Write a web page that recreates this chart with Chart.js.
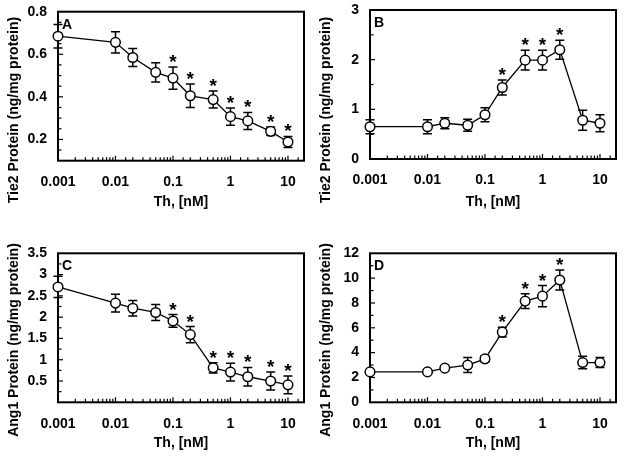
<!DOCTYPE html>
<html><head><meta charset="utf-8">
<script src="https://cdn.jsdelivr.net/npm/chart.js@4.4.0/dist/chart.umd.min.js"></script>
<style>
html,body{margin:0;padding:0;background:#fff;}
#wrap{position:relative;width:624px;height:459px;overflow:hidden;background:#fff;}
canvas{position:absolute;}
</style></head><body>
<div id="wrap">
<canvas id="cA" width="312" height="230" style="left:0;top:0"></canvas>
<canvas id="cB" width="312" height="230" style="left:312px;top:0"></canvas>
<canvas id="cC" width="312" height="229" style="left:0;top:230px"></canvas>
<canvas id="cD" width="312" height="229" style="left:312px;top:230px"></canvas>
</div>
<script>
// ---- data ----
const concentrations = [0.001, 0.01, 0.02, 0.05, 0.1, 0.2, 0.5, 1, 2, 5, 10];
const xTickLabels = ['0.001', '0.01', '0.1', '1', '10'];

const tie2A = [0.685, 0.656, 0.585, 0.515, 0.488, 0.405, 0.387, 0.307, 0.287, 0.238, 0.188];
const tie2AErr = [0.055, 0.05, 0.042, 0.045, 0.052, 0.055, 0.04, 0.04, 0.04, 0.02, 0.026];
const tie2ASig = [false, false, false, false, true, true, true, true, true, true, true];

const tie2B = [0.65, 0.65, 0.72, 0.68, 0.89, 1.44, 1.99, 1.99, 2.2, 0.78, 0.72];
const tie2BErr = [0.14, 0.14, 0.11, 0.12, 0.14, 0.15, 0.2, 0.2, 0.19, 0.2, 0.17];
const tie2BSig = [false, false, false, false, false, true, true, true, true, false, false];

const ang1C = [2.71, 2.33, 2.21, 2.11, 1.91, 1.59, 0.81, 0.71, 0.6, 0.5, 0.41];
const ang1CErr = [0.25, 0.21, 0.18, 0.19, 0.15, 0.19, 0.12, 0.21, 0.22, 0.21, 0.21];
const ang1CSig = [false, false, false, false, true, true, true, true, true, true, true];

const ang1D = [2.45, 2.45, 2.75, 3.0, 3.5, 5.65, 8.15, 8.55, 9.85, 3.2, 3.2];
const ang1DErr = [0.15, 0.15, 0.15, 0.6, 0.25, 0.4, 0.6, 0.85, 0.8, 0.5, 0.4];
const ang1DSig = [false, false, false, false, false, true, true, true, true, false, false];

const xTitle = 'Th, [nM]';
const tie2Title = 'Tie2 Protein (ng/mg protein)';
const ang1Title = 'Ang1 Protein (ng/mg protein)';

// ---- rendering ----
const FONT = "'Liberation Sans', Arial, Helvetica, sans-serif";
Chart.defaults.font.family = FONT;
Chart.defaults.color = '#000';

function near(v, step) { return Math.abs(v / step - Math.round(v / step)) < 1e-6; }

const decor = {
  id: 'decor',
  beforeDatasetsDraw(chart) {
    const o = chart.config.options.plugins.decor;
    const { ctx, chartArea: a, scales: { x, y } } = chart;
    ctx.save();
    ctx.strokeStyle = '#000';
    ctx.lineWidth = 1.2;
    x.ticks.forEach(t => {
      const px = x.getPixelForValue(t.value);
      if (px < a.left + 1 || px > a.right - 1) return;
      const len = t.label ? 5 : 3.5;
      ctx.beginPath(); ctx.moveTo(px, a.bottom); ctx.lineTo(px, a.bottom - len); ctx.stroke();
    });
    y.ticks.forEach(t => {
      const py = y.getPixelForValue(t.value);
      if (py < a.top + 1 || py > a.bottom - 1) return;
      const len = t.label ? 5 : 3.5;
      ctx.beginPath(); ctx.moveTo(a.left, py); ctx.lineTo(a.left + len, py); ctx.stroke();
    });
    ctx.lineWidth = 2;
    ctx.strokeRect(a.left, a.top, a.right - a.left, a.bottom - a.top);
    // error bars
    ctx.lineWidth = 1.5;
    o.values.forEach((v, i) => {
      const px = x.getPixelForValue(concentrations[i]);
      const t = y.getPixelForValue(v + o.errors[i]);
      const b = y.getPixelForValue(v - o.errors[i]);
      ctx.beginPath();
      ctx.moveTo(px, t); ctx.lineTo(px, b);
      ctx.moveTo(px - 4.5, t); ctx.lineTo(px + 4.5, t);
      ctx.moveTo(px - 4.5, b); ctx.lineTo(px + 4.5, b);
      ctx.stroke();
    });
    ctx.restore();
  },
  afterDatasetsDraw(chart) {
    const o = chart.config.options.plugins.decor;
    const { ctx, chartArea: a, scales: { x, y } } = chart;
    ctx.save();
    ctx.fillStyle = '#000';
    // significance stars
    ctx.font = 'bold 19px ' + FONT;
    ctx.textAlign = 'center';
    ctx.textBaseline = 'alphabetic';
    o.values.forEach((v, i) => {
      if (!o.sig[i]) return;
      const px = x.getPixelForValue(concentrations[i]);
      const t = y.getPixelForValue(v + o.errors[i]);
      ctx.fillText('*', px, t + 1);
    });
    // panel letter
    ctx.font = 'bold 14px ' + FONT;
    ctx.textAlign = 'left';
    ctx.textBaseline = 'top';
    ctx.fillText(o.letter, a.left + 4, a.top + 6);
    // y title
    ctx.translate(14, 110);
    ctx.rotate(-Math.PI / 2);
    ctx.textAlign = 'center';
    ctx.textBaseline = 'middle';
    ctx.font = 'bold 14px ' + FONT;
    ctx.fillText(o.yTitle, 0, 0);
    ctx.restore();
  }
};

function makePanel(id, values, errors, sig, letter, yTitle, yMin, yMax, yStep, labelStep, showZero, topPad, titlePad) {
  const canvas = document.getElementById(id);
  const xAxisHeight = canvas.height - topPad - 149;
  new Chart(canvas, {
    type: 'line',
    data: {
      datasets: [{
        data: concentrations.map((c, i) => ({ x: c, y: values[i] })),
        borderColor: '#000',
        borderWidth: 1.3,
        pointRadius: 4.8,
        pointBorderWidth: 1.5,
        pointBackgroundColor: '#fff',
        pointBorderColor: '#000',
        tension: 0,
        clip: false
      }]
    },
    options: {
      responsive: false,
      animation: false,
      events: [],
      devicePixelRatio: 1,
      layout: { padding: { top: topPad, right: 8, left: 0, bottom: 0 } },
      plugins: {
        legend: { display: false },
        tooltip: { enabled: false },
        decor: { values, errors, sig, letter, yTitle }
      },
      scales: {
        x: {
          type: 'logarithmic',
          min: 0.001, max: 19,
          grid: { display: false, drawTicks: false },
          border: { display: false },
          afterFit(s) { s.height = xAxisHeight; s.paddingLeft = 0; s.paddingRight = 0; },
          ticks: {
            autoSkip: false, maxRotation: 0, minRotation: 0, padding: 13,
            font: { size: 14, weight: 'bold' }, color: '#000',
            callback(v) {
              const e = Math.log10(v);
              if (Math.abs(e - Math.round(e)) > 1e-6) return '';
              const lbl = Math.round(e) < 0 ? Math.pow(10, Math.round(e)).toFixed(-Math.round(e)) : String(Math.pow(10, Math.round(e)));
              return xTickLabels.includes(lbl) ? lbl : '';
            }
          },
          title: {
            display: true, text: xTitle, color: '#000',
            font: { size: 14, weight: 'bold' },
            padding: { top: 0, bottom: titlePad }
          }
        },
        y: {
          min: yMin, max: yMax,
          grid: { display: false, drawTicks: false },
          border: { display: false },
          afterFit(s) { s.width = 58; s.paddingTop = 0; s.paddingBottom = 0; },
          ticks: {
            stepSize: yStep, autoSkip: false, padding: 11,
            font: { size: 14, weight: 'bold' }, color: '#000',
            callback(v) {
              if (!near(v, labelStep)) return '';
              if (Math.abs(v) < 1e-9 && !showZero) return '';
              return String(Math.round(v * 100) / 100);
            }
          }
        }
      }
    },
    plugins: [decor]
  });
}

makePanel('cA', tie2A, tie2AErr, tie2ASig, 'A', tie2Title, 0.1, 0.8, 0.05, 0.2, true, 11.7, 19);
makePanel('cB', tie2B, tie2BErr, tie2BSig, 'B', tie2Title, 0, 3, 0.5, 1, true, 10, 19);
makePanel('cC', ang1C, ang1CErr, ang1CSig, 'C', ang1Title, 0, 3.5, 0.25, 0.5, false, 23.3, 7.5);
makePanel('cD', ang1D, ang1DErr, ang1DSig, 'D', ang1Title, 0, 12, 1, 2, true, 23.3, 7.5);
</script>
</body></html>
